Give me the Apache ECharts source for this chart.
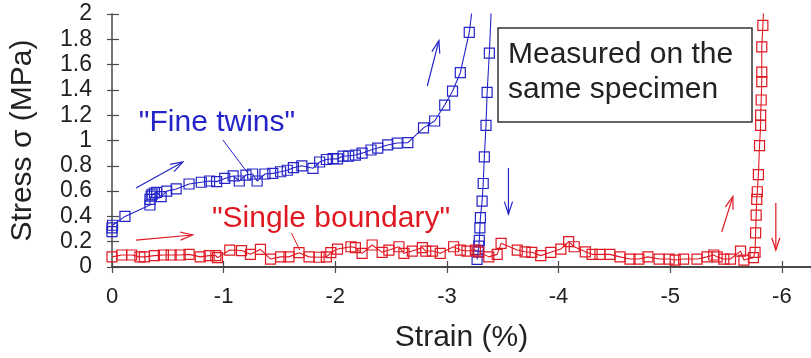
<!DOCTYPE html>
<html><head><meta charset="utf-8">
<script src="https://cdn.jsdelivr.net/npm/echarts@6/dist/echarts.min.js"></script>
<style>html,body{margin:0;padding:0;background:#fff}#c{width:811px;height:358px}</style>
</head><body><div id="c"></div>
<script>
// "Fine twins" – strain (%) and stress (MPa), loading then unloading
const fineStrain = [0, 0, -0.005, -0.116, -0.34, -0.34, -0.35, -0.36, -0.38, -0.40, -0.44, -0.49, -0.575, -0.69, -0.80, -0.874, -0.937, -1.01, -1.085, -1.14, -1.20, -1.26, -1.30, -1.37, -1.44, -1.51, -1.57, -1.625, -1.70, -1.80, -1.86, -1.92, -1.98, -2.02, -2.07, -2.12, -2.18, -2.24, -2.32, -2.38, -2.47, -2.555, -2.65, -2.79, -2.89, -2.98, -3.05, -3.12, -3.20, -3.235,
  -3.40, -3.38, -3.36, -3.35, -3.335, -3.325, -3.315, -3.30, -3.295, -3.29, -3.285, -3.28, -3.27];
const fineStress = [0.28, 0.31, 0.33, 0.40, 0.49, 0.535, 0.56, 0.575, 0.585, 0.59, 0.556, 0.60, 0.617, 0.656, 0.67, 0.68, 0.675, 0.70, 0.72, 0.68, 0.727, 0.735, 0.68, 0.735, 0.74, 0.753, 0.765, 0.785, 0.80, 0.78, 0.83, 0.85, 0.856, 0.855, 0.877, 0.877, 0.885, 0.90, 0.925, 0.94, 0.965, 0.98, 0.983, 1.10, 1.154, 1.28, 1.39, 1.536, 1.855, 2.1,
  2.1, 1.69, 1.38, 1.12, 0.87, 0.66, 0.52, 0.39, 0.31, 0.21, 0.165, 0.12, 0.06];

// "Single boundary" – strain (%) and stress (MPa)
const singleStrain = [0, -0.087, -0.176, -0.25, -0.29, -0.38, -0.46, -0.53, -0.61, -0.69, -0.79, -0.87, -0.93, -0.945, -1.055, -1.16, -1.24, -1.33, -1.42, -1.51, -1.585, -1.675, -1.765, -1.855, -1.92, -1.96, -2.02, -2.14, -2.18, -2.24, -2.33, -2.42, -2.48, -2.57, -2.615, -2.69, -2.78, -2.81, -2.87, -2.94, -3.06, -3.12, -3.18, -3.255, -3.285, -3.375, -3.45, -3.485, -3.63, -3.70, -3.76, -3.84, -3.93, -4.02, -4.09, -4.14, -4.24, -4.30, -4.37, -4.46, -4.55, -4.64, -4.72, -4.80, -4.90, -4.99, -5.045, -5.12, -5.24, -5.33, -5.39, -5.42, -5.48, -5.54, -5.63, -5.66, -5.745, -5.76, -5.765, -5.77, -5.775, -5.78, -5.79, -5.80, -5.81, -5.81, -5.815, -5.82, -5.82, -5.82, -5.83, -5.84];
const singleStress = [0.08, 0.095, 0.095, 0.08, 0.08, 0.09, 0.095, 0.095, 0.095, 0.10, 0.08, 0.09, 0.09, 0.074, 0.134, 0.13, 0.10, 0.14, 0.063, 0.08, 0.08, 0.113, 0.08, 0.077, 0.08, 0.113, 0.142, 0.16, 0.153, 0.108, 0.174, 0.116, 0.134, 0.16, 0.108, 0.126, 0.153, 0.126, 0.126, 0.108, 0.16, 0.134, 0.126, 0.134, 0.12, 0.08, 0.10, 0.187, 0.134, 0.12, 0.116, 0.09, 0.116, 0.142, 0.20, 0.16, 0.12, 0.10, 0.10, 0.10, 0.08, 0.063, 0.063, 0.08, 0.063, 0.063, 0.055, 0.063, 0.063, 0.08, 0.095, 0.08, 0.063, 0.063, 0.126, 0.055, 0.074, 0.116, 0.27, 0.41, 0.535, 0.595, 0.73, 0.96, 1.12, 1.20, 1.32, 1.465, 1.54, 1.74, 1.91, 2.1];

const xTickValues = [0, -1, -2, -3, -4, -5, -6];
const xTickLabels = ['0', '-1', '-2', '-3', '-4', '-5', '-6'];
const yTickLabels = ['0', '0.2', '0.4', '0.6', '0.8', '1', '1.2', '1.4', '1.6', '1.8', '2'];

// Annotation arrows in data coordinates [strain, stress]
const arrowsBlue = [[[-0.215, 0.625], [-0.635, 0.83]], [[-2.824, 1.431], [-2.928, 1.789]], [[-3.551, 0.783], [-3.551, 0.419]]];
const arrowsRed = [[[-0.215, 0.213], [-0.722, 0.253]], [[-5.462, 0.279], [-5.561, 0.556]], [[-5.946, 0.506], [-5.946, 0.134]]];
const leaderBlue = [[-0.993, 1.004], [-1.216, 0.743]];
const leaderRed = [[-1.607, 0.269], [-1.682, 0.134]];

const BLUE = '#2424c8';
const RED = '#e01822';
const AX = '#4a4a4a';
const TXT = '#222';
const FONT = '"Liberation Sans", Arial, Helvetica, sans-serif';
const XMAX = 6.261;

// plot strain magnitude on the axis, labelled with the negative values
const toPt = (s, v) => [-s, v];
const fineData = fineStrain.map((s, i) => toPt(s, fineStress[i]));
const singleData = singleStrain.map((s, i) => toPt(s, singleStress[i]));

function xLabel(v) {
  for (let i = 0; i < xTickValues.length; i++) {
    if (Math.abs(-xTickValues[i] - v) < 1e-6) return xTickLabels[i];
  }
  return '';
}
function yLabel(v) {
  const i = Math.round(v / 0.2);
  return Math.abs(i * 0.2 - v) < 1e-6 ? yTickLabels[i] : '';
}

const chart = echarts.init(document.getElementById('c'), null, {renderer: 'canvas'});
const tickStyle = {color: AX, width: 1.2};
chart.setOption({
  animation: false,
  backgroundColor: '#fff',
  grid: {left: 111, right: 0, top: 14, bottom: 91, containLabel: false},
  xAxis: [{
    type: 'value', min: 0, max: XMAX, interval: 1, position: 'bottom',
    axisLine: {show: true, lineStyle: {color: AX, width: 2}},
    axisTick: {show: true, inside: true, length: 6, lineStyle: tickStyle},
    axisLabel: {formatter: xLabel, fontSize: 22, color: TXT, fontFamily: FONT, margin: 19, showMaxLabel: false},
    splitLine: {show: false},
    name: 'Strain (%)', nameLocation: 'middle', nameGap: 56,
    nameTextStyle: {fontSize: 30, color: TXT, fontFamily: FONT}
  }, {
    type: 'value', min: 0, max: XMAX, interval: 1, position: 'top',
    axisLine: {show: true, lineStyle: {color: AX, width: 1.5}},
    axisTick: {show: true, inside: true, length: 6, lineStyle: tickStyle},
    axisLabel: {show: false}, splitLine: {show: false}
  }],
  yAxis: [{
    type: 'value', min: 0, max: 2, interval: 0.2, position: 'left',
    axisLine: {show: true, lineStyle: {color: AX, width: 1.5}},
    axisTick: {show: true, inside: true, length: 7, lineStyle: tickStyle},
    axisLabel: {formatter: yLabel, fontSize: 23, color: TXT, fontFamily: FONT, margin: 20},
    splitLine: {show: false},
    name: 'Stress σ (MPa)', nameLocation: 'middle', nameGap: 74,
    nameTextStyle: {fontSize: 30, color: TXT, fontFamily: FONT}
  }, {
    type: 'value', min: 0, max: 2, interval: 0.2, position: 'right',
    axisLine: {show: false},
    axisTick: {show: true, inside: true, length: 5, lineStyle: tickStyle},
    axisLabel: {show: false}, splitLine: {show: false}
  }],
  series: [{
    name: 'Fine twins', type: 'line', data: fineData, clip: true,
    symbol: 'rect', symbolSize: 10,
    lineStyle: {color: BLUE, width: 1.1},
    itemStyle: {color: 'rgba(0,0,0,0)', borderColor: BLUE, borderWidth: 1.2}
  }, {
    name: 'Single boundary', type: 'line', data: singleData, clip: true,
    symbol: 'rect', symbolSize: 10,
    lineStyle: {color: RED, width: 1.1},
    itemStyle: {color: 'rgba(0,0,0,0)', borderColor: RED, borderWidth: 1.2}
  }]
});

function px(p) { return chart.convertToPixel({xAxisIndex: 0, yAxisIndex: 0}, toPt(p[0], p[1])); }
function arrow(a, color) {
  const p0 = px(a[0]), p1 = px(a[1]);
  const dx = p1[0] - p0[0], dy = p1[1] - p0[1];
  const L = Math.hypot(dx, dy), ux = dx / L, uy = dy / L;
  const len = 13, ang = 0.32;
  const h = s => [p1[0] - len * (ux * Math.cos(ang) - s * uy * Math.sin(ang)),
                  p1[1] - len * (uy * Math.cos(ang) + s * ux * Math.sin(ang))];
  return [
    {type: 'line', shape: {x1: p0[0], y1: p0[1], x2: p1[0], y2: p1[1]}, style: {stroke: color, lineWidth: 1.2}, z: 10},
    {type: 'polyline', shape: {points: [h(1), p1, h(-1)]}, style: {stroke: color, lineWidth: 1.2, fill: null}, z: 10}
  ];
}
function leader(a, color) {
  const p0 = px(a[0]), p1 = px(a[1]);
  return {type: 'line', shape: {x1: p0[0], y1: p0[1], x2: p1[0], y2: p1[1]}, style: {stroke: color, lineWidth: 1}, z: 10};
}
const g = [];
arrowsBlue.forEach(a => g.push(...arrow(a, BLUE)));
arrowsRed.forEach(a => g.push(...arrow(a, RED)));
g.push(leader(leaderBlue, BLUE), leader(leaderRed, RED));
g.push({type: 'text', x: 217, y: 123, style: {text: '"Fine twins"', fill: BLUE, fontSize: 30, fontFamily: FONT, align: 'center', verticalAlign: 'middle'}, z: 11});
g.push({type: 'text', x: 331, y: 219, style: {text: '"Single boundary"', fill: RED, fontSize: 30, fontFamily: FONT, align: 'center', verticalAlign: 'middle'}, z: 11});
g.push({type: 'rect', shape: {x: 498, y: 28, width: 254, height: 94}, style: {fill: '#fff', stroke: '#333', lineWidth: 1.5}, z: 11});
g.push({type: 'text', x: 508, y: 55, style: {text: 'Measured on the', fill: TXT, fontSize: 30, fontFamily: FONT, align: 'left', verticalAlign: 'middle'}, z: 12});
g.push({type: 'text', x: 508, y: 90, style: {text: 'same specimen', fill: TXT, fontSize: 30, fontFamily: FONT, align: 'left', verticalAlign: 'middle'}, z: 12});
chart.setOption({graphic: g});
</script>
</body></html>
